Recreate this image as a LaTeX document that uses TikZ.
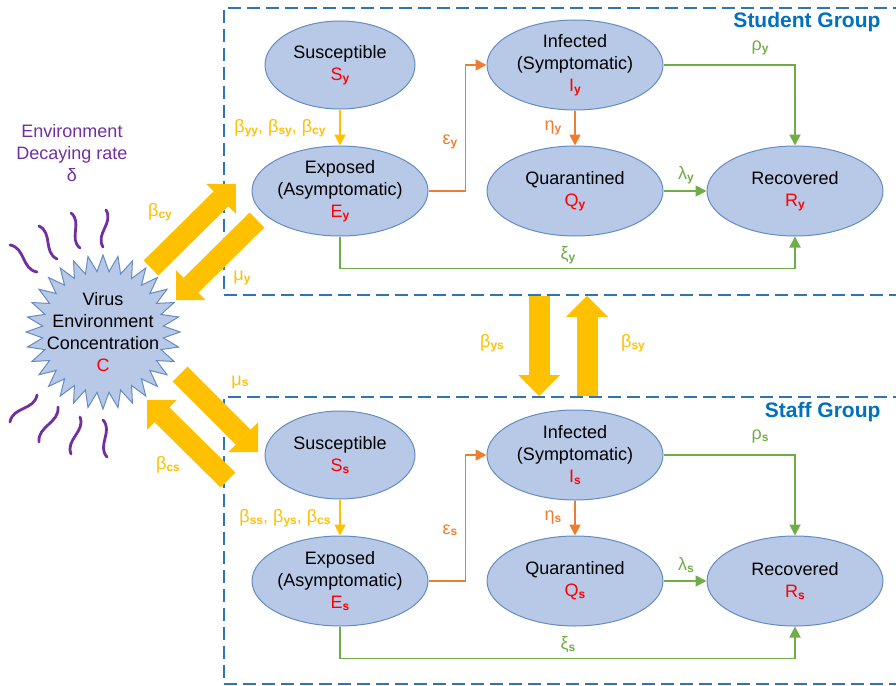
\documentclass[tikz,border=0pt]{standalone}
\usepackage{fontspec}
\setmainfont{Liberation Sans}
\usetikzlibrary{arrows.meta,calc,positioning,shapes.geometric}
\definecolor{ellfill}{RGB}{183,201,231}
\definecolor{elldraw}{RGB}{100,140,195}
\definecolor{grpblue}{RGB}{0,112,192}
\definecolor{boxblue}{RGB}{46,117,182}
\definecolor{byellow}{RGB}{255,192,0}
\definecolor{borange}{RGB}{237,125,49}
\definecolor{bgreen}{RGB}{112,173,71}
\definecolor{bpurple}{RGB}{112,48,160}
\definecolor{bred}{RGB}{255,0,0}
\newcommand{\subs}[1]{\raisebox{-1.5pt}{\fontsize{12}{12}\selectfont\bfseries #1}}

\begin{document}
\begin{tikzpicture}[
    x=1pt,
    y=-1pt,
    font=\fontsize{18}{22}\selectfont,
    state/.style={ellipse, draw=elldraw, fill=ellfill, line width=1pt, minimum width=176pt, minimum height=90pt, inner sep=-4pt, align=center},
    smallstate/.style={state, minimum width=150pt, minimum height=88pt},
    grp/.style={draw=boxblue, line width=1.8pt, dash pattern=on 13pt off 6pt, inner sep=0pt},
    flow/.style={line width=1.8pt, -{Triangle[length=11pt,width=11pt]}},
    big/.style={draw=byellow, line width=21pt, -{Triangle[length=21pt,width=42pt,line width=0pt]}},
    wave/.style={draw=bpurple, line width=2.8pt, line cap=round},
    lab/.style={inner sep=1pt}
]
\useasboundingbox (0,0) rectangle (896,685);

\node[grp, anchor=north west, minimum width=682pt, minimum height=287pt] (student) at (223,7) {};
\node[grp, anchor=north west, minimum width=682pt, minimum height=287pt] (staff) at (223,396) {};
\node[font=\fontsize{21}{24}\selectfont\bfseries, text=grpblue, anchor=east] (stdlbl) at (884,22) {Student Group};
\node[font=\fontsize{21}{24}\selectfont\bfseries, text=grpblue, anchor=east] (stflbl) at (884,412) {Staff Group};

\node[smallstate] (Sy) at (340,65) {Susceptible\\{\color{bred}S\subs{y}}};
\node[state] (Ey) at (340,191) {Exposed\\(Asymptomatic)\\{\color{bred}E\subs{y}}};
\node[state] (Iy) at (575,65) {Infected\\(Symptomatic)\\{\color{bred}I\subs{y}}};
\node[state] (Qy) at (575,191) {Quarantined\\{\color{bred}Q\subs{y}}};
\node[state] (Ry) at (795,191) {Recovered\\{\color{bred}R\subs{y}}};

\node[smallstate] (Ss) at (340,455) {Susceptible\\{\color{bred}S\subs{s}}};
\node[state] (Es) at (340,581) {Exposed\\(Asymptomatic)\\{\color{bred}E\subs{s}}};
\node[state] (Is) at (575,455) {Infected\\(Symptomatic)\\{\color{bred}I\subs{s}}};
\node[state] (Qs) at (575,581) {Quarantined\\{\color{bred}Q\subs{s}}};
\node[state] (Rs) at (795,581) {Recovered\\{\color{bred}R\subs{s}}};

\node[star, star points=32, star point ratio=1.27, minimum size=154pt, draw=elldraw, fill=ellfill, line width=1pt, inner sep=0pt] (virus) at (103,332) {};
\node[align=center] (virustxt) at (virus) {Virus\\Environment\\Concentration\\{\color{bred}C}};
\node[align=center, text=bpurple] (decay) at (72,153) {Environment\\Decaying rate\\δ};

\draw[wave] (10,245) .. controls +(15.4,2.6) and +(-15.4,-2.6) .. (37,272);
\draw[wave] (39,226) .. controls +(13.9,6.7) and +(-13.9,-6.7) .. (57,259);
\draw[wave] (71,213) .. controls +(11.7,9.5) and +(-11.7,-9.5) .. (80,248);
\draw[wave] (106,210) .. controls +(8,13) and +(-8,-13) .. (103,247);
\draw[wave] (37,395) .. controls +(-2.6,15.4) and +(2.6,-15.4) .. (10,422);
\draw[wave] (58,407) .. controls +(1.6,16) and +(-1.6,-16) .. (39,442);
\draw[wave] (80,417) .. controls +(5.7,14.4) and +(-5.7,-14.4) .. (71,454);
\draw[wave] (103,420) .. controls +(10.3,11.3) and +(-10.3,-11.3) .. (107,457);

\coordinate (cyA) at (151,268);
\coordinate (cyB) at (236,184);
\coordinate (myA) at (257,220);
\coordinate (myB) at (176,300);
\coordinate (msA) at (180,374);
\coordinate (msB) at (258,452);
\coordinate (csA) at (228,480);
\coordinate (csB) at (147,400);
\coordinate (ys) at (539,0);
\coordinate (sy) at (587,0);

\draw[big] (cyA) -- (cyB);
\draw[big] (myA) -- (myB);
\draw[big] (msA) -- (msB);
\draw[big] (csA) -- (csB);
\draw[big] (student.south -| ys) -- (staff.north -| ys);
\draw[big] (staff.north -| sy) -- (student.south -| sy);

\draw[flow, color=byellow] (Sy) -- (Ey);
\draw[flow, color=borange] (Ey.east) -- ++(37,0) |- (Iy.west);
\draw[flow, color=borange] (Iy) -- (Qy);
\draw[flow, color=bgreen] (Iy.east) -| (Ry.north);
\draw[flow, color=bgreen] (Qy) -- (Ry);
\draw[flow, color=bgreen] (Ey.south) -- ++(0,32) -| (Ry.south);

\draw[flow, color=byellow] (Ss) -- (Es);
\draw[flow, color=borange] (Es.east) -- ++(37,0) |- (Is.west);
\draw[flow, color=borange] (Is) -- (Qs);
\draw[flow, color=bgreen] (Is.east) -| (Rs.north);
\draw[flow, color=bgreen] (Qs) -- (Rs);
\draw[flow, color=bgreen] (Es.south) -- ++(0,32) -| (Rs.south);

\node[lab, text=byellow] (lsey) at (280,128) {β\subs{yy}, β\subs{sy}, β\subs{cy}};
\node[lab, text=borange] (leiy) at (450,142) {ε\subs{y}};
\node[lab, text=borange] (liqy) at (553,128) {η\subs{y}};
\node[lab, text=bgreen] (liry) at (760,48) {ρ\subs{y}};
\node[lab, text=bgreen] (lqry) at (686,175) {λ\subs{y}};
\node[lab, text=bgreen] (lery) at (568,255) {ξ\subs{y}};

\node[lab, text=byellow] (lses) at (285,518) {β\subs{ss}, β\subs{ys}, β\subs{cs}};
\node[lab, text=borange] (leis) at (450,530) {ε\subs{s}};
\node[lab, text=borange] (liqs) at (553,518) {η\subs{s}};
\node[lab, text=bgreen] (lirs) at (760,437) {ρ\subs{s}};
\node[lab, text=bgreen] (lqrs) at (686,565) {λ\subs{s}};
\node[lab, text=bgreen] (lers) at (568,645) {ξ\subs{s}};

\node[lab, text=byellow] (lcy) at (160,212) {β\subs{cy}};
\node[lab, text=byellow] (lmy) at (242,278) {μ\subs{y}};
\node[lab, text=byellow] (lms) at (240,382) {μ\subs{s}};
\node[lab, text=byellow] (lcs) at (168,465) {β\subs{cs}};
\node[lab, text=byellow] (lys) at (492,343) {β\subs{ys}};
\node[lab, text=byellow] (lsy) at (633,343) {β\subs{sy}};
\end{tikzpicture}
\end{document}
